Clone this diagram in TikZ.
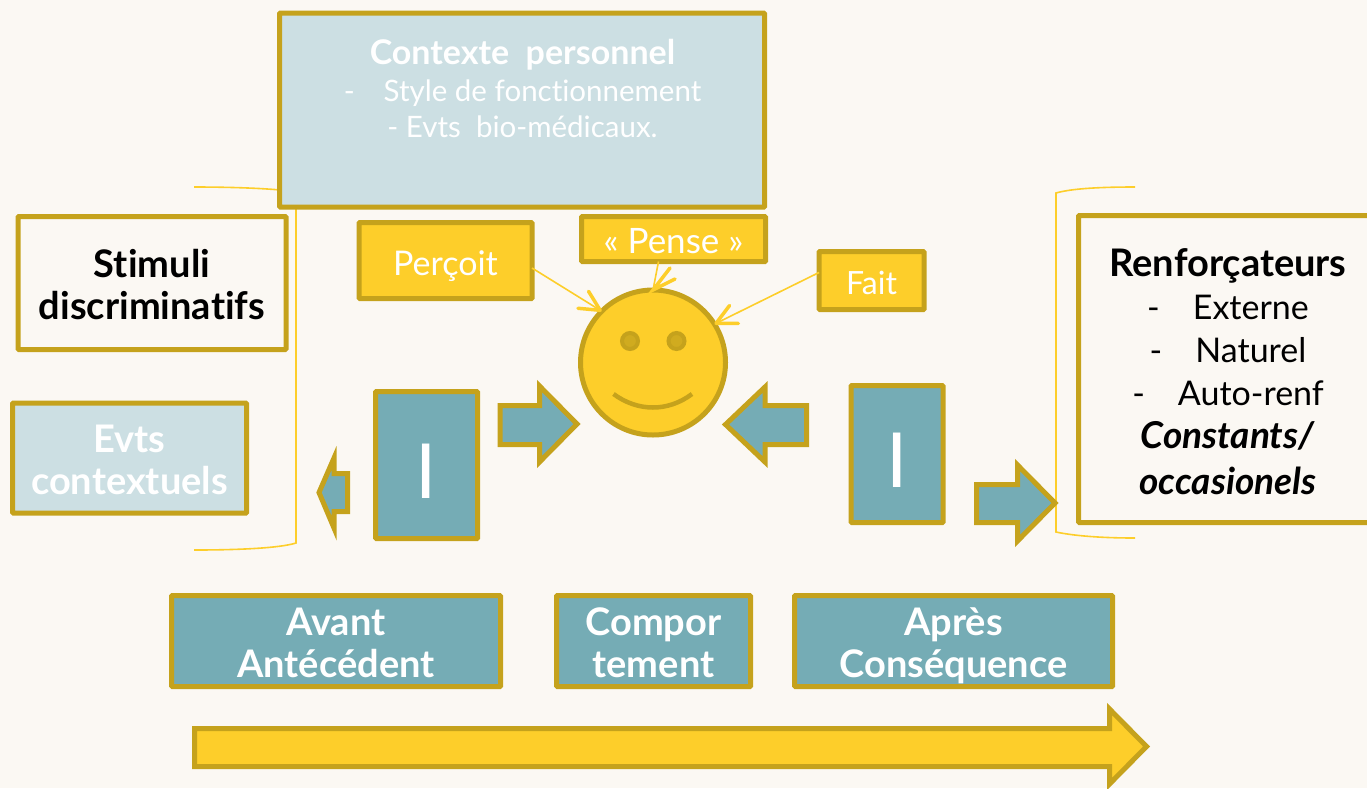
\documentclass[tikz,border=0pt]{standalone}
\usepackage{fontspec}
\setmainfont{Lato}[Ligatures=NoCommon]
\usetikzlibrary{arrows.meta}
\definecolor{bgc}{HTML}{FBF8F3}
\definecolor{gold}{HTML}{C5A21C}
\definecolor{sun}{HTML}{FDCE2A}
\definecolor{teal2}{HTML}{75ACB5}
\definecolor{pale}{HTML}{CCDFE3}
\newcommand{\firstline}{\rule{0pt}{38pt}}
\newcommand{\lastline}{\rule[-8pt]{0pt}{8pt}}
\newcommand{\oneline}{\rule[-8pt]{0pt}{46pt}}
\tikzset{
  box/.style={draw=gold,line width=5pt,rounded corners=0.8pt,inner sep=0pt,align=center,outer sep=0pt},
  tealbox/.style={box,fill=teal2,text=white},
  palebox/.style={box,fill=pale,text=white},
  sunbox/.style={box,fill=sun,text=white},
  plainbox/.style={box,fill=bgc,text=black},
  blockarrow/.style={draw=gold,line width=5pt,fill=teal2,miter limit=10,line join=miter},
  bracketline/.style={draw=sun,line width=1.6pt},
  conn/.style={draw=sun,line width=1.6pt},
  barbtip/.style={conn,-{Straight Barb[length=20pt,width=20pt,line width=3.5pt,round]}},
  barbs/.style={draw=sun,line width=3.5pt,line cap=round,line join=miter},
  big/.style={font=\fontsize{38}{42}\selectfont},
  bar/.style={font=\fontsize{76}{80}\selectfont},
}
\begin{document}
\begin{tikzpicture}[x=1pt,y=-1pt]
\fill[bgc] (0,0) rectangle (1367,788);
\useasboundingbox (0,0) rectangle (1367,788);
% brackets
\draw[bracketline] (194,187) .. controls (240,187) and (280,189) .. (296,192) -- (296,543) .. controls (280,548) and (240,550) .. (194,550);
\draw[bracketline] (1135,187) .. controls (1095,187) and (1070,189) .. (1056,193) -- (1056,532) .. controls (1070,535) and (1095,538) .. (1135,538);
% boxes
\node[palebox,font=\fontsize{29.5}{36.7}\selectfont,minimum width=485pt,minimum height=194pt] (contexte) at (522,110) {\hspace*{1pt}\rule{0pt}{36pt}{\fontsize{34}{36.7}\selectfont\textbf{Contexte\ \ personnel}}\\\hspace*{1pt}-\hspace{29pt}Style de fonctionnement\\\hspace*{1pt}- Evts\ \ bio-médicaux.\rule[-54pt]{0pt}{54pt}};
\node[plainbox,big,minimum width=268pt,minimum height=133pt] (stimuli) at (152,283) {\firstline\textbf{Stimuli}\\\textbf{discriminatifs}\lastline};
\node[palebox,big,minimum width=234pt,minimum height=110pt] (evts) at (129.5,458) {\firstline\textbf{Evts}\\\textbf{contextuels}\lastline};
\node[sunbox,font=\fontsize{34}{37}\selectfont,minimum width=173pt,minimum height=76pt] (percoit) at (445.5,260.5) {\oneline Perçoit};
\node[sunbox,font=\fontsize{35}{37}\selectfont,minimum width=184pt,minimum height=45pt] (pense) at (673.5,239) {\smash{\raisebox{-14.5pt}{« Pense »}}};
\node[sunbox,font=\fontsize{32}{37}\selectfont,minimum width=105pt,minimum height=58pt] (fait) at (871.5,280.5) {\rule[-8pt]{0pt}{44pt}Fait};
\node[plainbox,font=\fontsize{34}{43}\selectfont,minimum width=299pt,minimum height=307pt] (renf) at (1228,369) {\rule{0pt}{40pt}{\fontsize{38}{43}\selectfont\textbf{Renforçateurs}}\\-\hspace{33pt}Externe\\-\hspace{33pt}Naturel\\-\hspace{33pt}Auto-renf\\{\fontsize{37}{43}\selectfont\textbf{\textit{Constants/}}}\\[3pt]{\fontsize{37}{43}\selectfont\textbf{\textit{occasionels}}}\lastline};
% I boxes
\node[tealbox,bar,minimum width=102pt,minimum height=147pt] (ileft) at (426.5,465) {\rule[-8pt]{0pt}{82pt}I};
\node[tealbox,bar,minimum width=92pt,minimum height=137pt] (iright) at (897,454) {\rule[-8pt]{0pt}{82pt}I};
% smiley
\node[circle,draw=gold,fill=sun,line width=5pt,minimum size=145pt,inner sep=0pt,outer sep=0pt] (smiley) at (653,362.5) {};
\node[circle,draw=gold,fill=gold!80!sun,line width=4pt,minimum size=16pt,inner sep=0pt] (eyea) at (630,341) {};
\node[circle,draw=gold,fill=gold!80!sun,line width=4pt,minimum size=16pt,inner sep=0pt] (eyeb) at (676.5,341) {};
\draw[gold,line width=4.5pt] (613.5,394) .. controls (638,412) and (668,412) .. (692,394);
% block arrows
\draw[blockarrow] (500,405.5) -- (539.5,405.5) -- (539.5,386) -- (577,424) -- (539.5,462) -- (539.5,444.5) -- (500,444.5) -- cycle;
\draw[blockarrow] (806.5,405.5) -- (765,405.5) -- (765,387) -- (725.5,424.5) -- (765,462) -- (765,444.5) -- (806.5,444.5) -- cycle;
\draw[blockarrow] (347.5,473.5) -- (334,473.5) -- (334,458) -- (319,492.5) -- (334,528) -- (334,511.5) -- (347.5,511.5) -- cycle;
\draw[blockarrow] (976.5,484.5) -- (1017.5,484.5) -- (1017.5,465) -- (1055,503) -- (1017.5,541) -- (1017.5,522.5) -- (976.5,522.5) -- cycle;
\draw[blockarrow,fill=sun] (194.5,728.5) -- (1109.5,728.5) -- (1109.5,709) -- (1146.5,746.5) -- (1109.5,784) -- (1109.5,766.5) -- (194.5,766.5) -- cycle;
% stage boxes
\node[tealbox,big,minimum width=329pt,minimum height=91pt] (avant) at (336,641) {\firstline\textbf{Avant}\\\textbf{Antécédent}\lastline};
\node[tealbox,big,minimum width=194pt,minimum height=91pt] (compor) at (653.5,641) {\firstline\textbf{Compor}\\\textbf{tement}\lastline};
\node[tealbox,big,minimum width=318pt,minimum height=91pt] (apres) at (953.5,641) {\firstline\textbf{Après}\\\textbf{Conséquence}\lastline};
% connectors
\draw[barbtip] ([yshift=-7.5pt]percoit.east) -- (smiley.135);
\draw[conn] ([xshift=-15pt]pense.south) -- (smiley.90);
\coordinate (pensebarba) at (670,268);
\coordinate (pensebarbb) at (675,279);
\draw[barbs] (pensebarba) -- (smiley.90) -- (pensebarbb);
\draw[barbtip] ([yshift=8pt]fait.west) -- (smiley.32);
\end{tikzpicture}
\end{document}
